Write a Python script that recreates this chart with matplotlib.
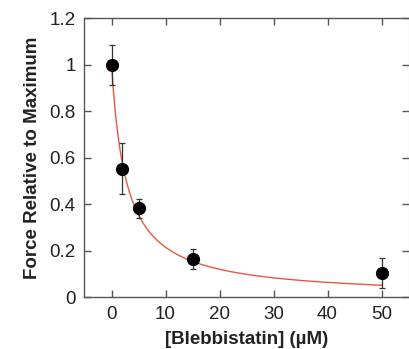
import numpy as np
import matplotlib
matplotlib.use("Agg")
import matplotlib.pyplot as plt

# Data
conc = [0, 2, 5, 15, 50]            # [Blebbistatin] (uM)
force = [1.0, 0.553, 0.382, 0.165, 0.106]
err = [0.087, 0.110, 0.042, 0.042, 0.064]
ic50 = 2.74                          # fitted half-maximal concentration
xticks = [0, 10, 20, 30, 40, 50]
yticks = [0, 0.2, 0.4, 0.6, 0.8, 1.0, 1.2]
ytick_labels = ["0", "0.2", "0.4", "0.6", "0.8", "1", "1.2"]

plt.rcParams['font.family'] = ['Liberation Sans', 'DejaVu Sans']

fig = plt.figure(figsize=(4.09, 3.49), dpi=100)
ax = fig.add_axes([84 / 409, 1 - 297.3 / 349, (408.5 - 84) / 409, (297.3 - 18.3) / 349])

xfit = np.linspace(0, 50, 300)
ax.plot(xfit, 1.0 / (1.0 + xfit / ic50), color='#E8583C', lw=1.0, zorder=2)
ax.errorbar(conc, force, yerr=err, fmt='none', ecolor='#333333', elinewidth=0.9,
            capsize=2.2, capthick=0.9, zorder=3)
ax.plot(conc, force, 'o', color='black', markersize=8.5, zorder=4)

ax.set_xlim(-5.1, 55)
ax.set_ylim(0, 1.2)
ax.set_xticks(xticks)
ax.set_yticks(yticks)
ax.set_yticklabels(ytick_labels)
ax.tick_params(direction='in', top=True, right=True, length=5, width=1,
               color='#555555', labelsize=13.5, pad=6, labelcolor='#222222')

for s in ['left', 'bottom', 'top']:
    ax.spines[s].set_color('#555555')
    ax.spines[s].set_linewidth(1.0)
ax.spines['right'].set_color('#aaaaaa')
ax.spines['right'].set_linewidth(0.8)

ax.set_xlabel('[Blebbistatin] (µM)', fontsize=13.5, fontweight='bold', color='#222222', labelpad=6)
ax.set_ylabel('Force Relative to Maximum', fontsize=13.5, fontweight='bold', color='#222222', labelpad=6)

fig.savefig('out.png', dpi=100)
